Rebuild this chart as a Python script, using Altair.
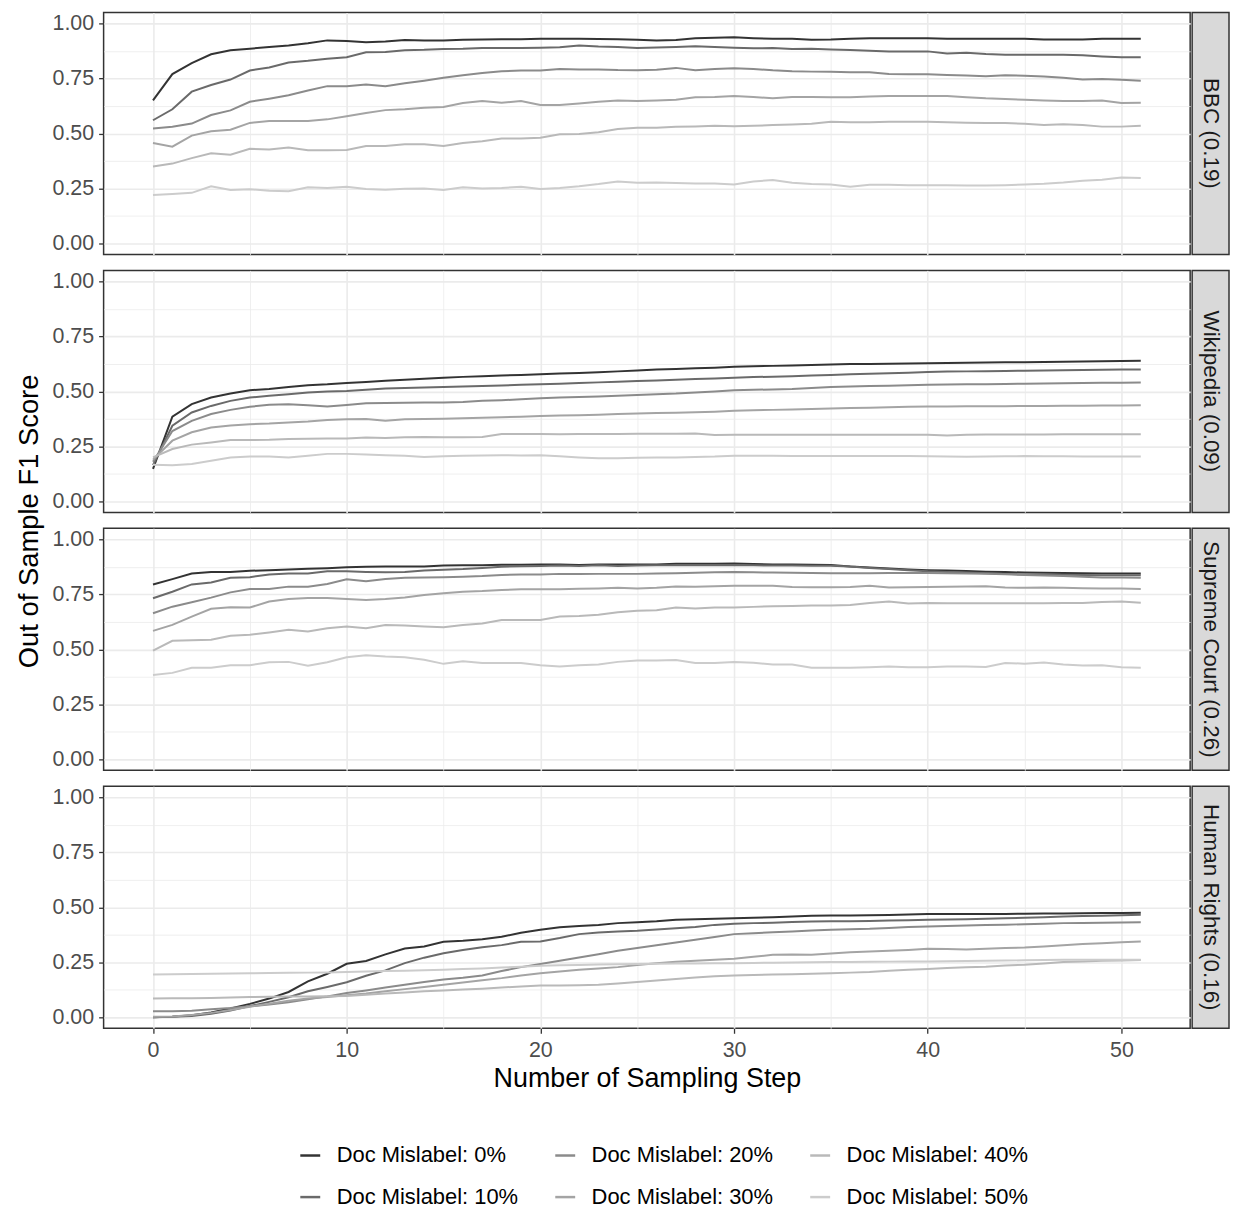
import altair as alt
import pandas as pd

steps = list(range(52))
levels = ["Doc Mislabel: 0%", "Doc Mislabel: 10%", "Doc Mislabel: 20%",
          "Doc Mislabel: 30%", "Doc Mislabel: 40%", "Doc Mislabel: 50%"]
grey_colors = ["#333333", "#6A6A6A", "#8B8B8B", "#A4A4A4", "#B9B9B9", "#CCCCCC"]
datasets = ["BBC (0.19)", "Wikipedia (0.09)", "Supreme Court (0.26)", "Human Rights (0.16)"]

# ---- BBC ----
bbc_0 = [0.65, 0.77, 0.82, 0.86, 0.878, 0.885, 0.893, 0.90, 0.91, 0.923, 0.92, 0.914, 0.918, 0.925, 0.923, 0.923, 0.926, 0.927, 0.928, 0.928, 0.93, 0.93, 0.93, 0.929, 0.928, 0.926, 0.923,
         0.925, 0.933, 0.935, 0.937, 0.933, 0.93, 0.93, 0.926, 0.927, 0.93, 0.933, 0.933, 0.933, 0.933, 0.93, 0.93, 0.93, 0.93, 0.93, 0.927, 0.927, 0.927, 0.93, 0.93, 0.93]
bbc_10 = [0.56, 0.61, 0.69, 0.72, 0.745, 0.786, 0.80, 0.822, 0.83, 0.84, 0.846, 0.869, 0.87, 0.878, 0.88, 0.884, 0.885, 0.888, 0.888, 0.888, 0.89, 0.892, 0.9, 0.895, 0.893,
          0.888, 0.891, 0.893, 0.896, 0.893, 0.89, 0.887, 0.888, 0.884, 0.885, 0.882, 0.879, 0.876, 0.873, 0.873, 0.873, 0.863, 0.867, 0.861, 0.858, 0.858, 0.858, 0.858, 0.855, 0.85, 0.846, 0.846]
bbc_20 = [0.523, 0.53, 0.545, 0.584, 0.605, 0.644, 0.658, 0.674, 0.695, 0.715, 0.715, 0.722, 0.715, 0.728, 0.74, 0.753, 0.765, 0.775, 0.783, 0.786, 0.786, 0.793, 0.791, 0.791, 0.788,
          0.787, 0.79, 0.798, 0.787, 0.793, 0.796, 0.793, 0.787, 0.783, 0.781, 0.78, 0.778, 0.778, 0.77, 0.769, 0.769, 0.766, 0.763, 0.76, 0.765, 0.762, 0.759, 0.753, 0.745, 0.747, 0.744, 0.74]
bbc_30 = [0.457, 0.44, 0.49, 0.51, 0.517, 0.548, 0.557, 0.557, 0.557, 0.564, 0.578, 0.593, 0.606, 0.61, 0.617, 0.62, 0.638, 0.647, 0.64, 0.647, 0.629, 0.629, 0.636, 0.644, 0.65,
          0.647, 0.65, 0.653, 0.665, 0.666, 0.67, 0.666, 0.66, 0.666, 0.666, 0.665, 0.665, 0.668, 0.67, 0.67, 0.67, 0.67, 0.665, 0.66, 0.657, 0.653, 0.65, 0.647, 0.647, 0.65, 0.638, 0.64]
bbc_40 = [0.35, 0.363, 0.388, 0.41, 0.403, 0.43, 0.427, 0.436, 0.424, 0.424, 0.425, 0.443, 0.443, 0.451, 0.451, 0.443, 0.457, 0.465, 0.477, 0.477, 0.48, 0.496, 0.498, 0.505, 0.52,
          0.526, 0.526, 0.53, 0.532, 0.535, 0.533, 0.535, 0.538, 0.541, 0.544, 0.553, 0.551, 0.551, 0.553, 0.553, 0.553, 0.551, 0.549, 0.547, 0.547, 0.544, 0.538, 0.542, 0.538, 0.531, 0.531, 0.535]
bbc_50 = [0.22, 0.225, 0.23, 0.26, 0.243, 0.246, 0.24, 0.237, 0.255, 0.252, 0.258, 0.247, 0.244, 0.249, 0.25, 0.243, 0.255, 0.25, 0.252, 0.258, 0.247, 0.252, 0.26, 0.27, 0.282,
          0.276, 0.277, 0.275, 0.273, 0.273, 0.268, 0.282, 0.288, 0.276, 0.27, 0.268, 0.258, 0.267, 0.267, 0.265, 0.265, 0.264, 0.263, 0.263, 0.265, 0.268, 0.271, 0.277, 0.285, 0.29, 0.3, 0.297]

# ---- Wikipedia ----
wiki_0 = [0.148, 0.385, 0.442, 0.472, 0.49, 0.505, 0.511, 0.52, 0.528, 0.532, 0.538, 0.543, 0.548, 0.553, 0.558, 0.562, 0.566, 0.569, 0.572, 0.575, 0.578, 0.581, 0.584, 0.587, 0.591, 0.595, 0.6,
          0.602, 0.605, 0.608, 0.612, 0.614, 0.616, 0.618, 0.62, 0.622, 0.624, 0.625, 0.626, 0.627, 0.628, 0.629, 0.63, 0.631, 0.632, 0.633, 0.634, 0.635, 0.636, 0.637, 0.638, 0.639]
wiki_10 = [0.165, 0.344, 0.404, 0.434, 0.457, 0.472, 0.48, 0.487, 0.495, 0.499, 0.502, 0.507, 0.513, 0.515, 0.518, 0.52, 0.522, 0.524, 0.527, 0.53, 0.532, 0.535, 0.538, 0.541, 0.544, 0.547, 0.55,
           0.553, 0.556, 0.559, 0.562, 0.565, 0.567, 0.569, 0.572, 0.575, 0.578, 0.58, 0.583, 0.585, 0.588, 0.59, 0.591, 0.592, 0.593, 0.594, 0.595, 0.596, 0.597, 0.598, 0.599, 0.6]
wiki_20 = [0.18, 0.32, 0.366, 0.397, 0.416, 0.43, 0.439, 0.442, 0.437, 0.431, 0.438, 0.446, 0.447, 0.448, 0.449, 0.45, 0.452, 0.457, 0.46, 0.464, 0.469, 0.472, 0.474, 0.477, 0.48, 0.484, 0.487,
           0.49, 0.495, 0.5, 0.505, 0.507, 0.509, 0.511, 0.515, 0.52, 0.522, 0.524, 0.526, 0.528, 0.53, 0.531, 0.532, 0.533, 0.534, 0.535, 0.536, 0.537, 0.538, 0.539, 0.539, 0.54]
wiki_30 = [0.19, 0.276, 0.314, 0.336, 0.345, 0.351, 0.354, 0.359, 0.363, 0.37, 0.373, 0.375, 0.367, 0.373, 0.375, 0.376, 0.378, 0.38, 0.383, 0.385, 0.388, 0.39, 0.392, 0.394, 0.397, 0.4, 0.402,
           0.403, 0.405, 0.408, 0.412, 0.414, 0.416, 0.418, 0.42, 0.422, 0.424, 0.426, 0.428, 0.43, 0.431, 0.431, 0.432, 0.432, 0.433, 0.434, 0.434, 0.435, 0.435, 0.436, 0.436, 0.437]
wiki_40 = [0.2, 0.238, 0.258, 0.268, 0.279, 0.279, 0.28, 0.284, 0.285, 0.286, 0.286, 0.29, 0.288, 0.292, 0.293, 0.292, 0.292, 0.293, 0.306, 0.306, 0.306, 0.305, 0.306, 0.306, 0.306, 0.307, 0.307,
           0.307, 0.309, 0.302, 0.303, 0.303, 0.303, 0.303, 0.303, 0.303, 0.303, 0.303, 0.303, 0.303, 0.303, 0.299, 0.303, 0.304, 0.304, 0.304, 0.304, 0.305, 0.305, 0.305, 0.305, 0.305]
wiki_50 = [0.167, 0.164, 0.17, 0.185, 0.2, 0.204, 0.204, 0.2, 0.208, 0.216, 0.216, 0.213, 0.21, 0.208, 0.202, 0.205, 0.208, 0.209, 0.21, 0.209, 0.21, 0.205, 0.2, 0.196, 0.196, 0.198, 0.199,
           0.2, 0.202, 0.204, 0.208, 0.207, 0.207, 0.206, 0.206, 0.206, 0.206, 0.206, 0.206, 0.206, 0.205, 0.204, 0.203, 0.204, 0.205, 0.206, 0.205, 0.205, 0.204, 0.204, 0.204, 0.204]

# ---- Supreme Court ----
sc_0 = [0.795, 0.819, 0.845, 0.852, 0.852, 0.857, 0.86, 0.863, 0.866, 0.869, 0.873, 0.875, 0.876, 0.877, 0.877, 0.881, 0.882, 0.882, 0.884, 0.884, 0.886, 0.886, 0.883, 0.886, 0.886, 0.886, 0.886,
        0.889, 0.889, 0.889, 0.89, 0.888, 0.886, 0.886, 0.885, 0.883, 0.876, 0.872, 0.867, 0.863, 0.86, 0.858, 0.856, 0.853, 0.851, 0.849, 0.848, 0.847, 0.846, 0.845, 0.845, 0.845]
sc_10 = [0.732, 0.762, 0.795, 0.804, 0.825, 0.828, 0.84, 0.845, 0.845, 0.855, 0.855, 0.852, 0.85, 0.852, 0.858, 0.862, 0.865, 0.87, 0.875, 0.878, 0.879, 0.881, 0.879, 0.882, 0.879, 0.881, 0.882,
         0.882, 0.882, 0.882, 0.882, 0.882, 0.881, 0.881, 0.88, 0.88, 0.876, 0.87, 0.865, 0.86, 0.855, 0.852, 0.849, 0.846, 0.843, 0.84, 0.84, 0.839, 0.838, 0.837, 0.837, 0.837]
sc_20 = [0.664, 0.694, 0.714, 0.735, 0.759, 0.774, 0.774, 0.785, 0.785, 0.797, 0.818, 0.81, 0.82, 0.825, 0.827, 0.828, 0.83, 0.833, 0.838, 0.84, 0.84, 0.843, 0.842, 0.843, 0.843, 0.843, 0.845,
         0.846, 0.848, 0.85, 0.852, 0.85, 0.849, 0.848, 0.847, 0.846, 0.846, 0.846, 0.847, 0.847, 0.847, 0.846, 0.845, 0.843, 0.841, 0.838, 0.836, 0.833, 0.83, 0.827, 0.826, 0.825]
sc_30 = [0.584, 0.611, 0.649, 0.684, 0.691, 0.69, 0.717, 0.729, 0.733, 0.733, 0.729, 0.724, 0.729, 0.736, 0.747, 0.755, 0.762, 0.765, 0.77, 0.773, 0.773, 0.773, 0.775, 0.777, 0.78, 0.777, 0.78,
         0.786, 0.784, 0.787, 0.789, 0.789, 0.789, 0.783, 0.782, 0.782, 0.783, 0.789, 0.781, 0.782, 0.783, 0.784, 0.786, 0.787, 0.781, 0.78, 0.781, 0.78, 0.778, 0.777, 0.776, 0.774]
sc_40 = [0.494, 0.539, 0.541, 0.544, 0.562, 0.566, 0.577, 0.589, 0.581, 0.596, 0.604, 0.596, 0.611, 0.608, 0.604, 0.6, 0.611, 0.617, 0.633, 0.633, 0.633, 0.649, 0.651, 0.657, 0.669, 0.675, 0.678,
         0.69, 0.686, 0.69, 0.69, 0.693, 0.696, 0.697, 0.699, 0.699, 0.702, 0.711, 0.717, 0.708, 0.711, 0.71, 0.71, 0.71, 0.71, 0.71, 0.71, 0.711, 0.711, 0.715, 0.717, 0.712]
sc_50 = [0.383, 0.393, 0.416, 0.416, 0.428, 0.428, 0.441, 0.443, 0.426, 0.441, 0.464, 0.473, 0.467, 0.464, 0.453, 0.434, 0.446, 0.438, 0.438, 0.438, 0.428, 0.422, 0.428, 0.431, 0.443, 0.449, 0.449,
         0.452, 0.438, 0.438, 0.442, 0.439, 0.431, 0.431, 0.416, 0.416, 0.416, 0.419, 0.422, 0.419, 0.419, 0.422, 0.422, 0.42, 0.438, 0.435, 0.44, 0.431, 0.427, 0.428, 0.419, 0.416]

# ---- Human Rights ----
hr_0 = [0, 0.003, 0.009, 0.022, 0.04, 0.061, 0.085, 0.115, 0.163, 0.198, 0.243, 0.256, 0.286, 0.313, 0.322, 0.343, 0.348, 0.355, 0.366, 0.384, 0.398,
        0.409, 0.415, 0.42, 0.428, 0.432, 0.436, 0.443, 0.446, 0.448, 0.45, 0.452, 0.455, 0.458, 0.462, 0.463, 0.463, 0.464, 0.465, 0.467, 0.469, 0.469, 0.469, 0.47, 0.47, 0.471, 0.472, 0.472, 0.473, 0.474, 0.474, 0.475]
hr_10 = [0, 0.002, 0.006, 0.016, 0.031, 0.051, 0.07, 0.091, 0.118, 0.138, 0.159, 0.189, 0.213, 0.246, 0.271, 0.291, 0.306, 0.318, 0.328, 0.343, 0.345,
         0.36, 0.378, 0.385, 0.39, 0.393, 0.399, 0.405, 0.41, 0.42, 0.425, 0.428, 0.43, 0.433, 0.435, 0.436, 0.437, 0.438, 0.44, 0.441, 0.443, 0.444, 0.446, 0.448, 0.45, 0.452, 0.455, 0.458, 0.46, 0.462, 0.464, 0.466]
hr_20 = [0.027, 0.027, 0.03, 0.036, 0.042, 0.05, 0.058, 0.068, 0.082, 0.095, 0.11, 0.122, 0.135, 0.148, 0.16, 0.172, 0.18, 0.19, 0.21, 0.228, 0.242,
         0.257, 0.272, 0.287, 0.302, 0.315, 0.327, 0.34, 0.352, 0.365, 0.378, 0.382, 0.386, 0.39, 0.395, 0.398, 0.4, 0.402, 0.406, 0.41, 0.413, 0.415, 0.417, 0.419, 0.421, 0.423, 0.425, 0.428, 0.429, 0.43, 0.431, 0.432]
hr_30 = [0.002, 0.004, 0.01, 0.02, 0.033, 0.048, 0.062, 0.075, 0.085, 0.092, 0.1, 0.108, 0.118, 0.128, 0.138, 0.148, 0.158, 0.168, 0.178, 0.19, 0.2,
         0.208, 0.216, 0.222, 0.228, 0.238, 0.246, 0.252, 0.257, 0.262, 0.266, 0.275, 0.284, 0.285, 0.284, 0.29, 0.296, 0.299, 0.302, 0.306, 0.311, 0.31, 0.308, 0.312, 0.315, 0.317, 0.322, 0.327, 0.333, 0.337, 0.341, 0.345]
hr_40 = [0.085, 0.086, 0.087, 0.088, 0.09, 0.092, 0.093, 0.094, 0.095, 0.096, 0.097, 0.102, 0.108, 0.113, 0.118, 0.122, 0.126, 0.13, 0.135, 0.14, 0.144,
         0.145, 0.146, 0.148, 0.154, 0.16, 0.167, 0.174, 0.181, 0.186, 0.19, 0.192, 0.194, 0.196, 0.198, 0.2, 0.203, 0.206, 0.212, 0.216, 0.22, 0.224, 0.227, 0.23, 0.235, 0.239, 0.245, 0.251, 0.254, 0.257, 0.258, 0.26]
hr_50 = [0.195, 0.196, 0.197, 0.198, 0.199, 0.2, 0.201, 0.202, 0.203, 0.204, 0.206, 0.208, 0.21, 0.212, 0.214, 0.216, 0.219, 0.222, 0.226, 0.23, 0.234,
         0.236, 0.238, 0.24, 0.241, 0.242, 0.243, 0.244, 0.245, 0.246, 0.246, 0.247, 0.248, 0.249, 0.25, 0.251, 0.251, 0.252, 0.253, 0.254, 0.254, 0.255, 0.256, 0.257, 0.258, 0.259, 0.26, 0.261, 0.261, 0.261, 0.261, 0.261]

panel_series = [
    [bbc_0, bbc_10, bbc_20, bbc_30, bbc_40, bbc_50],
    [wiki_0, wiki_10, wiki_20, wiki_30, wiki_40, wiki_50],
    [sc_0, sc_10, sc_20, sc_30, sc_40, sc_50],
    [hr_0, hr_10, hr_20, hr_30, hr_40, hr_50],
]
for group in panel_series:
    for s in group:
        assert len(s) == len(steps), len(s)

FONT = "Liberation Sans"
PW, PH = 1091, 243
STRIP_W = 37

# Vega fills multi-column legends column by column, like ggplot here
color_scale = alt.Scale(domain=levels, range=grey_colors)

legend = alt.Legend(orient="none", legendX=292, legendY=1136, columns=3,
                    symbolType="stroke", symbolSize=400, symbolStrokeWidth=2.5,
                    labelFontSize=22, labelColor="#000000", labelFont=FONT,
                    columnPadding=31, rowPadding=19, labelOffset=15, padding=0,
                    labelLimit=400)

x_minor = {"test": "datum.value % 10 !== 0"}
y_minor = {"test": "(datum.value * 8) % 2 !== 0"}


def x_axis(bottom):
    common = dict(values=list(range(0, 51, 5)), domain=False, gridColor="#EBEBEB",
                  gridWidth={"condition": {**x_minor, "value": 0.8}, "value": 1.6})
    if bottom:
        return alt.Axis(**common,
                        labelExpr="datum.value % 10 === 0 ? datum.label : ''",
                        tickOpacity={"condition": {**x_minor, "value": 0}, "value": 1},
                        tickColor="#333333", tickSize=5, tickWidth=1.3,
                        labelFontSize=21.5, labelColor="#4D4D4D", labelFont=FONT,
                        labelPadding=6, title="Number of Sampling Step",
                        titleFontSize=27, titleFontWeight="normal", titleColor="#000000",
                        titleFont=FONT, titlePadding=5)
    return alt.Axis(**common, labels=False, ticks=False, title="")


y_axis = alt.Axis(values=[i / 8 for i in range(9)], domain=False, gridColor="#EBEBEB",
                  gridWidth={"condition": {**y_minor, "value": 0.8}, "value": 1.6},
                  labelExpr="(datum.value * 8) % 2 === 0 ? format(datum.value, '.2f') : ''",
                  tickOpacity={"condition": {**y_minor, "value": 0}, "value": 1},
                  tickColor="#333333", tickSize=5, tickWidth=1.3,
                  labelFontSize=21.5, labelColor="#4D4D4D", labelFont=FONT,
                  labelPadding=5, title="")

rows = []
for di, (dname, group) in enumerate(zip(datasets, panel_series)):
    panel_rows = []
    for li, vals in enumerate(group):
        for st, v in zip(steps, vals):
            panel_rows.append({"step": st, "f1": v, "level": levels[li]})
    rows.append(pd.DataFrame(panel_rows))

panels = []
for di, dname in enumerate(datasets):
    bottom = di == len(datasets) - 1
    lines = alt.Chart(rows[di]).mark_line(strokeWidth=2).encode(
        x=alt.X("step:Q", scale=alt.Scale(domain=[-2.55, 53.55], nice=False, zero=False),
                axis=x_axis(bottom)),
        y=alt.Y("f1:Q", scale=alt.Scale(domain=[-0.05, 1.05], nice=False, zero=False),
                axis=y_axis),
        color=alt.Color("level:N", scale=color_scale, legend=legend, title=None),
    ).properties(width=PW, height=PH)

    strip = alt.Chart(pd.DataFrame({"label": [dname]})).mark_text(
        angle=90, fontSize=22.5, color="#1A1A1A", font=FONT, align="center", baseline="middle"
    ).encode(
        text="label:N", x=alt.value(STRIP_W / 2), y=alt.value(PH / 2)
    ).properties(width=STRIP_W, height=PH,
                 view=alt.ViewBackground(fill="#D9D9D9", stroke="#333333", strokeWidth=1.5))
    panels.append(alt.hconcat(lines, strip, spacing=0))

grid = alt.vconcat(*panels, spacing=14)

ytitle = alt.Chart(pd.DataFrame({"t": ["Out of Sample F1 Score"]})).mark_text(
    angle=270, fontSize=27.5, color="#000000", font=FONT, align="center", baseline="middle"
).encode(
    text="t:N", x=alt.value(22), y=alt.value(511)
).properties(width=42.5, height=1020, view=alt.ViewBackground(strokeOpacity=0))

chart = alt.hconcat(ytitle, grid, spacing=0).resolve_scale(color="shared").properties(
    padding={"left": 0, "top": 1, "right": 0, "bottom": 0}
).configure(font=FONT).configure_view(stroke="#333333", strokeWidth=1.5)

chart.save("out.html", embed_options={"renderer": "svg", "actions": False})
